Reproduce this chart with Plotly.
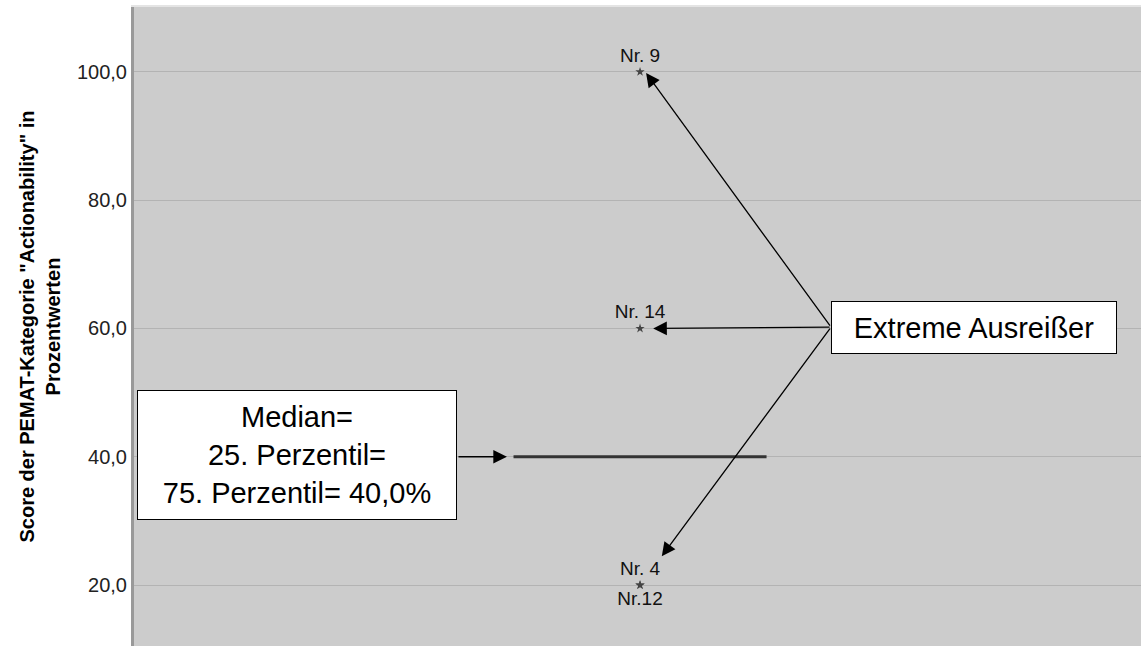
import plotly.graph_objects as go

# ---- data ----
case_ids = list(range(1, 15))
scores = [40, 40, 40, 20, 40, 40, 40, 40, 100, 40, 40, 20, 40, 60]
outlier_ids = [9, 14, 4, 12]
outlier_labels = ["Nr. 9", "Nr. 14", "Nr. 4", "Nr.12"]
outlier_scores = [scores[i - 1] for i in outlier_ids]
label_positions = ["top center", "top center", "top center", "bottom center"]
y_ticks = [20, 40, 60, 80, 100]
y_title = '<b>Score der PEMAT-Kategorie "Actionability" in<br>Prozentwerten</b>'
median_text = "Median=<br>25. Perzentil=<br>75. Perzentil= 40,0%"
outlier_text = "Extreme Ausreißer"

FONT = "Arial, Liberation Sans, sans-serif"

fig = go.Figure()

fig.add_trace(go.Box(
    y=scores, x=[0] * len(scores), boxpoints="outliers",
    marker=dict(color="rgba(0,0,0,0)", size=1),
    width=0.5, whiskerwidth=0,
    line=dict(color="#333333", width=3),
    fillcolor="rgba(0,0,0,0)", showlegend=False, hoverinfo="skip",
))

fig.add_trace(go.Scatter(
    x=[0] * len(outlier_scores), y=outlier_scores,
    mode="markers+text",
    marker=dict(symbol="star", size=7, color="#444444"),
    text=outlier_labels, textposition=label_positions,
    textfont=dict(family=FONT, size=19, color="#111111"),
    showlegend=False, hoverinfo="skip",
))

# arrows from "Extreme Ausreißer" box
tail_x, tail_y = 0.3775, 60.2
arrow_heads = [(0.012, 99.8), (0.026, 60.0), (0.043, 24.5)]
for hx, hy in arrow_heads:
    fig.add_annotation(
        x=hx, y=hy, ax=tail_x, ay=tail_y, xref="x", yref="y", axref="x", ayref="y",
        text="", showarrow=True, arrowhead=2, arrowsize=2.1, arrowwidth=1.3,
        arrowcolor="#000000",
    )

# arrow from median box
fig.add_annotation(
    x=-0.263, y=40, ax=-0.3617, ay=40, xref="x", yref="y", axref="x", ayref="y",
    text="", showarrow=True, arrowhead=2, arrowsize=2.1, arrowwidth=1.3,
    arrowcolor="#000000",
)

fig.add_annotation(
    x=-0.677, y=40.2, xref="x", yref="y", text=median_text, showarrow=False,
    font=dict(family=FONT, size=29, color="#000000"),
    bgcolor="#ffffff", bordercolor="#000000", borderwidth=1, borderpad=0,
    width=318, height=128, align="center",
)

fig.add_annotation(
    x=0.660, y=60.2, xref="x", yref="y", text=outlier_text, showarrow=False,
    font=dict(family=FONT, size=29, color="#000000"),
    bgcolor="#ffffff", bordercolor="#000000", borderwidth=1, borderpad=0,
    width=284, height=51, align="center",
)

fig.add_annotation(
    x=-0.0943, y=0.50, xref="paper", yref="paper", text=y_title, showarrow=False,
    textangle=-90, font=dict(family=FONT, size=20, color="#000000"),
    xanchor="center", yanchor="middle",
)

fig.update_layout(
    width=1141, height=646,
    margin=dict(l=134, r=0, t=7, b=0),
    paper_bgcolor="#ffffff", plot_bgcolor="#cccccc",
    separators=",.",
    font=dict(family=FONT),
    xaxis=dict(range=[-1, 0.99], showgrid=False, zeroline=False, showticklabels=False,
               showline=True, side="top", linecolor="#e4e4e4", linewidth=2),
    yaxis=dict(range=[10.5, 110.1], tickvals=y_ticks, tickformat=".1f",
               showgrid=True, gridcolor="#b3b3b3", gridwidth=1, zeroline=False,
               showline=True, linecolor="#999999", linewidth=3,
               ticks="", ticklen=0,
               tickfont=dict(family=FONT, size=20, color="#222222")),
)

fig.write_html(
    "out.html",
    config={"displayModeBar": False},
    post_script="document.body.style.margin='0';document.documentElement.style.overflow='hidden';",
)
